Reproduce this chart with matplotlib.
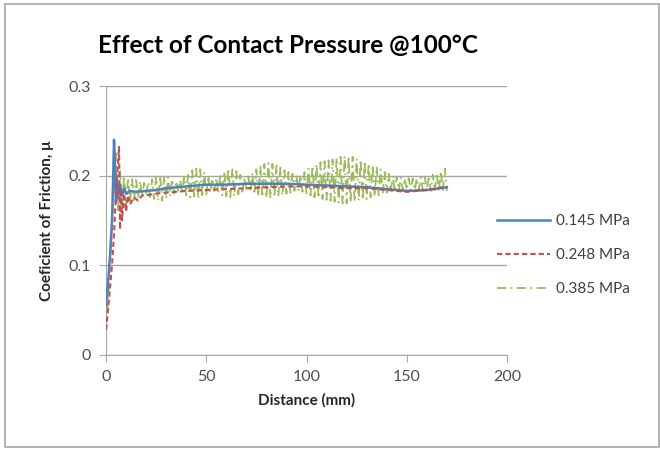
import matplotlib.pyplot as plt
from matplotlib.patches import Rectangle
from matplotlib.ticker import FuncFormatter
import numpy as np

plt.rcParams['font.family'] = ['Lato', 'DejaVu Sans']

# data (distance in mm, coefficient of friction)
blue_x = [0, 1, 2, 3, 3.5, 4, 4.5, 5, 5.5, 6, 7, 8, 9, 10, 12, 15, 20, 25, 30,
          40, 50, 60, 70, 80, 90, 100, 110, 120, 130, 140, 150, 160, 170]
blue_mu = [0.055, 0.08, 0.11, 0.15, 0.19, 0.24, 0.21, 0.17, 0.195, 0.175, 0.19,
           0.178, 0.186, 0.18, 0.183, 0.182, 0.183, 0.184, 0.186, 0.188, 0.19,
           0.19, 0.191, 0.191, 0.191, 0.19, 0.189, 0.188, 0.187, 0.185, 0.183,
           0.184, 0.187]

red_x = [0, 1, 2, 3, 4, 5, 6, 6.5, 7, 7.5, 8, 9, 10, 11, 12, 14, 16, 18, 20, 25,
         30, 40, 50, 60, 70, 80, 90, 100, 110, 120, 130, 140, 150, 160, 170]
red_mu = [0.028, 0.05, 0.075, 0.1, 0.135, 0.18, 0.215, 0.232, 0.14, 0.185, 0.15,
          0.18, 0.16, 0.178, 0.168, 0.176, 0.172, 0.178, 0.178, 0.18, 0.181,
          0.183, 0.184, 0.185, 0.186, 0.187, 0.188, 0.188, 0.187, 0.186, 0.186,
          0.184, 0.182, 0.184, 0.188]

# green: one reading per mm, 0..170
green_mu = [
    0.025, 0.06, 0.1, 0.14, 0.185, 0.225,
    0.16, 0.205, 0.163, 0.2, 0.166, 0.198, 0.17, 0.196, 0.173, 0.195,
    0.175, 0.194, 0.177, 0.192, 0.178, 0.193, 0.176, 0.196, 0.174, 0.199,
    0.172, 0.2, 0.172, 0.2, 0.174, 0.198, 0.177, 0.196, 0.18, 0.194,
    0.183, 0.195, 0.181, 0.199, 0.178, 0.203, 0.176, 0.206, 0.174, 0.208,
    0.174, 0.207, 0.176, 0.204, 0.178, 0.2, 0.181, 0.197, 0.183, 0.198,
    0.181, 0.202, 0.178, 0.205, 0.177, 0.208, 0.176, 0.207, 0.177, 0.205,
    0.179, 0.201, 0.182, 0.198, 0.185, 0.199, 0.182, 0.203, 0.179, 0.207,
    0.177, 0.21, 0.176, 0.213, 0.175, 0.214, 0.175, 0.213, 0.176, 0.211,
    0.177, 0.209, 0.178, 0.206, 0.18, 0.204, 0.181, 0.202, 0.183, 0.2,
    0.184, 0.201, 0.182, 0.204, 0.18, 0.208, 0.178, 0.211, 0.176, 0.213,
    0.175, 0.215, 0.174, 0.216, 0.173, 0.217, 0.172, 0.218, 0.171, 0.22,
    0.17, 0.221, 0.169, 0.222, 0.169, 0.222, 0.17, 0.221, 0.171, 0.219,
    0.172, 0.218, 0.173, 0.216, 0.174, 0.214, 0.176, 0.212, 0.177, 0.21,
    0.178, 0.207, 0.18, 0.204, 0.181, 0.202, 0.182, 0.2, 0.183, 0.199,
    0.183, 0.198, 0.184, 0.197, 0.184, 0.197, 0.184, 0.197, 0.184, 0.197,
    0.184, 0.198, 0.184, 0.199, 0.183, 0.2, 0.183, 0.201, 0.183, 0.203,
    0.182, 0.205, 0.182, 0.208, 0.183,
]
green_x = list(range(len(green_mu)))

labels = ['0.145 MPa', '0.248 MPa', '0.385 MPa']
x_ticks = [0, 50, 100, 150, 200]
y_ticks = [0, 0.1, 0.2, 0.3]

fig = plt.figure(figsize=(6.6, 4.5), dpi=100)
ax = fig.add_axes([106 / 660, 1 - 355 / 450, 401 / 660, 269 / 450])

ax.plot(blue_x, blue_mu, color='#4F81BD', lw=1.8, label=labels[0], zorder=3)
ax.plot(red_x, red_mu, color='#C0504D', lw=1.5, dashes=(2.5, 1.5),
        label=labels[1], zorder=4)
ax.plot(green_x, green_mu, color='#9BBB59', lw=1.3, dashes=(5, 2.5, 1, 2.5),
        label=labels[2], zorder=2)

ax.set_xlim(0, 200)
ax.set_ylim(0, 0.3)
ax.set_xticks(x_ticks)
ax.set_yticks(y_ticks)
ax.yaxis.set_major_formatter(FuncFormatter(lambda v, p: '0' if v == 0 else f'{v:g}'))
ax.grid(axis='y', color='#A6A6A6', lw=1)
ax.set_axisbelow(True)
for s in ['top', 'right']:
    ax.spines[s].set_visible(False)
for s in ['left', 'bottom']:
    ax.spines[s].set_color('#A6A6A6')
ax.tick_params(direction='out', length=5, color='#A6A6A6', labelsize=11.5,
               labelcolor='#505050', pad=6)

ax.set_xlabel('Distance (mm)', fontsize=11, fontweight='bold', color='#262626',
              labelpad=6)
ax.set_ylabel('Coeficient of Friction, μ', fontsize=11, fontweight='bold',
              color='#262626', labelpad=10)
fig.text(288 / 660, 1 - 45 / 450, 'Effect of Contact Pressure @100°C',
         fontsize=17.5, fontweight='bold', ha='center', va='center')

ax.legend(loc='center left', bbox_to_anchor=(497 / 660, 1 - 255 / 450),
          bbox_transform=fig.transFigure, frameon=False, fontsize=11,
          handlelength=3.5, handletextpad=0.35, labelspacing=1.3,
          borderpad=0, borderaxespad=0, labelcolor='#404040')

fig.patches.append(Rectangle((5 / 660, 3 / 450), 654 / 660, 443 / 450,
                             transform=fig.transFigure, fill=False,
                             edgecolor='#A6A6A6', lw=1.2))

fig.savefig('out.png', dpi=100)
